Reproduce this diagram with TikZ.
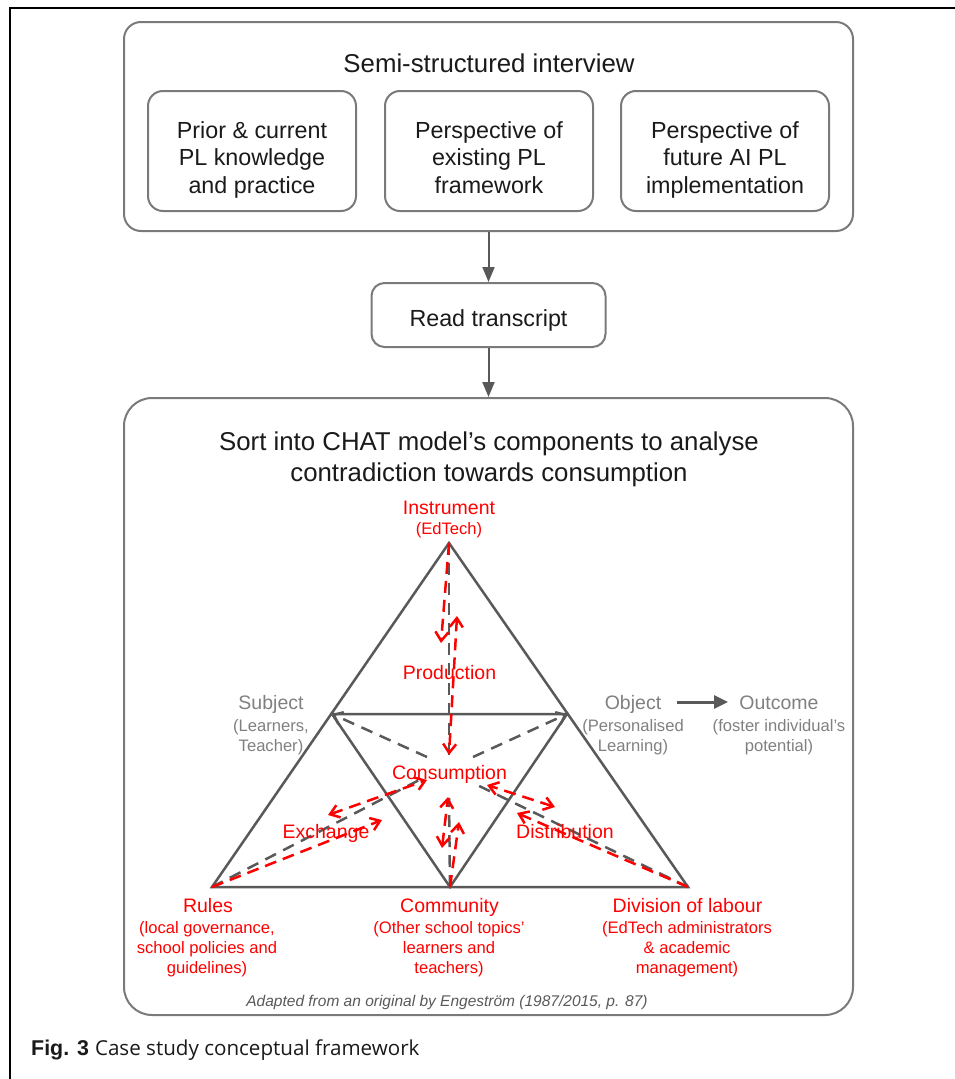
\documentclass[tikz,border=0pt]{standalone}
\usepackage{fontspec}
\setmainfont{Liberation Sans}
\newfontfamily\captionfont{Open Sans}
\usetikzlibrary{arrows.meta}
\definecolor{boxline}{HTML}{7A7A7A}
\definecolor{triline}{HTML}{595959}
\definecolor{lblgray}{HTML}{808080}
\definecolor{chatred}{HTML}{FF0000}
\definecolor{ink}{HTML}{1A1A1A}
\newcommand\setfs[1]{\fontsize{#1}{#1}\selectfont}
\begin{document}
\begin{tikzpicture}[x=1pt,y=-1pt,
  box/.style={draw=boxline,line width=2pt,inner sep=0pt},
  flow/.style={triline,line width=2pt,-{Triangle[length=15pt,width=12pt]}},
  tri/.style={triline,line width=2.5pt},
  graydash/.style={triline,line width=2.5pt,dash pattern=on 12pt off 8pt},
  grayarr/.style={graydash,-{Straight Barb[length=8pt,width=13pt]}},
  redarr/.style={chatred,line width=2.5pt,dash pattern=on 12pt off 7pt,-{Straight Barb[length=9pt,width=13pt]}},
  redboth/.style={chatred,line width=2.5pt,dash pattern=on 12pt off 7pt,{Straight Barb[length=9pt,width=13pt]}-{Straight Barb[length=9pt,width=13pt]}},
  txt/.style={anchor=base,inner sep=0pt},
  boxtxt/.style={txt,text=ink,font=\setfs{23.3}},
  headtxt/.style={txt,text=ink,font=\setfs{25.8}},
  redlbl/.style={txt,text=chatred,font=\setfs{19.5}},
  redsub/.style={txt,text=chatred,font=\setfs{16.6}},
  graylbl/.style={txt,text=lblgray,font=\setfs{19.5}},
  graysub/.style={txt,text=lblgray,font=\setfs{16.6}},
]
\useasboundingbox (0,0) rectangle (955,1079);

% figure frame
\draw[black,line width=2.5pt] (955,8) -- (10,8) -- (10,1079);

% interview block
\node[box,rounded corners=17pt,minimum width=729pt,minimum height=209pt] (interview) at (488.5,126.5) {};
\node[headtxt] (interviewT) at (489,72) {Semi-structured interview};
\node[box,rounded corners=15pt,minimum width=208pt,minimum height=120pt] (prior) at (252,151) {};
\node[box,rounded corners=15pt,minimum width=208pt,minimum height=120pt] (exist) at (489,151) {};
\node[box,rounded corners=15pt,minimum width=208pt,minimum height=120pt] (future) at (725,151) {};
\node[boxtxt] (prior1) at (252,138) {Prior \& current};
\node[boxtxt] (prior2) at (252,165.5) {PL knowledge};
\node[boxtxt] (prior3) at (252,193) {and practice};
\node[boxtxt] (exist1) at (489,138) {Perspective of};
\node[boxtxt] (exist2) at (489,165.5) {existing PL};
\node[boxtxt] (exist3) at (489,193) {framework};
\node[boxtxt] (future1) at (725,138) {Perspective of};
\node[boxtxt] (future2) at (725,165.5) {future AI PL};
\node[boxtxt] (future3) at (725,193) {implementation};

% transcript step
\node[box,rounded corners=13pt,minimum width=234pt,minimum height=64pt] (read) at (488.5,315) {};
\node[boxtxt] (readT) at (488.5,326.5) {Read transcript};

% CHAT block
\node[box,rounded corners=28pt,minimum width=729pt,minimum height=617pt] (chat) at (488.5,706.5) {};
\node[headtxt] (chat1) at (489,450) {Sort into CHAT model’s components to analyse};
\node[headtxt] (chat2) at (489,481) {contradiction towards consumption};

\draw[flow] (interview.south) -- (read.north);
\draw[flow] (read.south) -- (chat.north);

% activity triangle
\coordinate (I) at (449,543);
\coordinate (S) at (332,714);
\coordinate (O) at (567,714);
\coordinate (R) at (212,887);
\coordinate (C) at (450,887);
\coordinate (D) at (688,887);
\draw[tri] (R) -- (I) -- (D) -- cycle;
\draw[tri] (S) -- (O) -- (C) -- cycle;

% ends of the dashed flows
\coordinate (gI) at (449,757);
\coordinate (gC) at (449,798);
\coordinate (gR) at (425,777);
\coordinate (gD) at (473,783);
\coordinate (gS) at (427,757);
\coordinate (gO) at (473,757);
\coordinate (iA) at (441,643);
\coordinate (iB) at (457,616);
\coordinate (iC) at (449,755);
\coordinate (cA) at (459,822);
\coordinate (cB) at (442,848);
\coordinate (cC) at (448,797);
\coordinate (rA) at (382,820);
\coordinate (rB) at (328,815);
\coordinate (rC) at (427,780);
\coordinate (dA) at (517,813);
\coordinate (dB) at (555,807);
\coordinate (dC) at (487,785);

% grey flows towards consumption
\draw[graydash] (I) -- (gI);
\draw[graydash] (C) -- (gC);
\draw[graydash] (R) -- (gR);
\draw[graydash] (D) -- (gD);
\draw[grayarr] (gS) -- (S);
\draw[grayarr] (gO) -- (O);

% red contradiction flows
\draw[redarr] (I) -- (iA);
\draw[redboth] (iB) -- (iC);
\draw[redarr] (C) -- (cA);
\draw[redboth] (cB) -- (cC);
\draw[redarr] (R) -- (rA);
\draw[redboth] (rB) -- (rC);
\draw[redarr] (D) -- (dA);
\draw[redboth] (dB) -- (dC);

% object to outcome
\coordinate (objR) at (677,702);
\coordinate (outL) at (728,702);
\draw[triline,line width=3pt,-{Triangle[length=14pt,width=13pt]}] (objR) -- (outL);

% labels
\node[redlbl] (instr) at (449,514) {Instrument};
\node[redsub] (instrS) at (449,534) {(EdTech)};
\node[redlbl] (prod) at (449.5,679) {Production};
\node[redlbl] (cons) at (449.5,779) {Consumption};
\node[redlbl] (exch) at (326,838) {Exchange};
\node[redlbl] (dist) at (565,838) {Distribution};

\node[graylbl] (subj) at (271,709) {Subject};
\node[graysub] (subj1) at (271,731) {(Learners,};
\node[graysub] (subj2) at (271,751) {Teacher)};
\node[graylbl] (obj) at (633,709) {Object};
\node[graysub] (obj1) at (633,731) {(Personalised};
\node[graysub] (obj2) at (633,751) {Learning)};
\node[graylbl] (outc) at (779,709) {Outcome};
\node[graysub] (outc1) at (779,731) {(foster individual’s};
\node[graysub] (outc2) at (779,751) {potential)};

\node[redlbl] (rules) at (208,912) {Rules};
\node[redsub] (rules1) at (207,933) {(local governance,};
\node[redsub] (rules2) at (207,953) {school policies and};
\node[redsub] (rules3) at (207,973) {guidelines)};
\node[redlbl] (comm) at (449.5,912) {Community};
\node[redsub] (comm1) at (449,933) {(Other school topics’};
\node[redsub] (comm2) at (449,953) {learners and};
\node[redsub] (comm3) at (449,973) {teachers)};
\node[redlbl] (div) at (687.5,912) {Division of labour};
\node[redsub] (div1) at (687,933) {(EdTech administrators};
\node[redsub] (div2) at (687,953) {\& academic};
\node[redsub] (div3) at (687,973) {management)};

\node[txt,text=triline,font=\setfs{15.5}\itshape] (adapt) at (447,1006) {Adapted from an original by Engeström (1987/2015, p. 87)};

% caption
\node[txt,anchor=base west,text=ink,font=\setfs{21.4}] (caption) at (31,1055)
  {{\bfseries Fig. 3}\ {\captionfont\setfs{20.6}Case study conceptual framework}};
\end{tikzpicture}
\end{document}
